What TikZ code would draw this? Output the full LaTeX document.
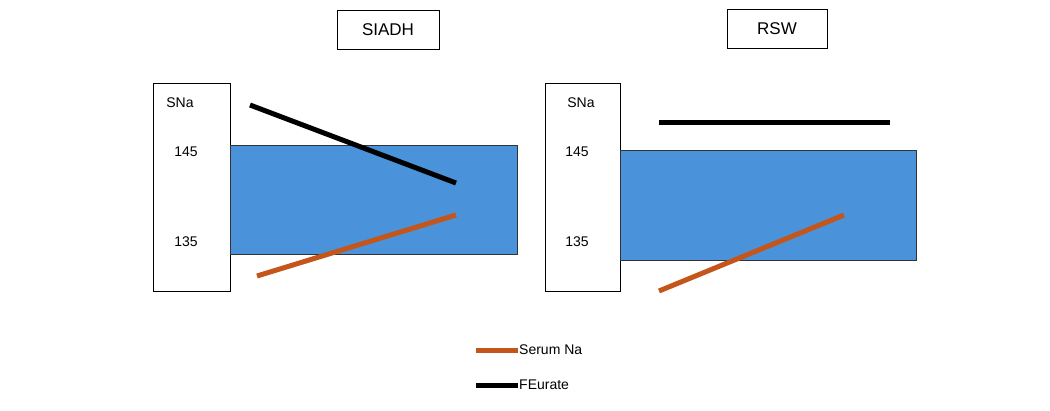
\documentclass[tikz,border=0pt]{standalone}
\usepackage{fontspec}
\setmainfont{Liberation Sans}
\definecolor{barblue}{RGB}{74,146,217}
\definecolor{serumorange}{RGB}{196,86,28}
\begin{document}
\begin{tikzpicture}[x=1pt,y=-1pt,
  titlebox/.style={draw=black,fill=white,minimum width=102pt,minimum height=39pt,font=\fontsize{17}{20}\selectfont},
  scalepanel/.style={draw=black,fill=white,thick},
  band/.style={fill=barblue,draw=black!80},
  serum/.style={serumorange,line width=5pt},
  feurate/.style={black,line width=5pt},
  tick/.style={font=\fontsize{14}{16}\selectfont}]
\useasboundingbox (0,0) rectangle (1050,410);
% titles
\node[titlebox] (siadh) at (388,30) {SIADH};
\node[titlebox,minimum width=100pt] (rsw) at (777,29) {RSW};
% SIADH panel
\draw[scalepanel] (153,83) rectangle (230,291);
\draw[band] (230,145) rectangle (517,254);
\node[tick] (snaL) at (180,103) {SNa};
\node[tick] (hiL) at (186,152) {145};
\node[tick] (loL) at (186,242) {135};
\draw[feurate] (250,105) -- (456,183);
\draw[serum] (257,276) -- (456,215);
% RSW panel
\draw[scalepanel] (545,83) rectangle (620,291);
\draw[band] (620,150) rectangle (916,260);
\node[tick] (snaR) at (581,103) {SNa};
\node[tick] (hiR) at (577,152) {145};
\node[tick] (loR) at (577,242) {135};
\draw[feurate] (659,122) -- (890,122);
\draw[serum] (659,291) -- (844,215);
% legend
\draw[serum] (476,350) -- (518,350);
\node[tick,anchor=west,inner sep=1pt] (lgserum) at (518,350) {Serum Na};
\draw[feurate] (476,385) -- (518,385);
\node[tick,anchor=west,inner sep=1pt] (lgfe) at (518,385) {FEurate};
\end{tikzpicture}
\end{document}
